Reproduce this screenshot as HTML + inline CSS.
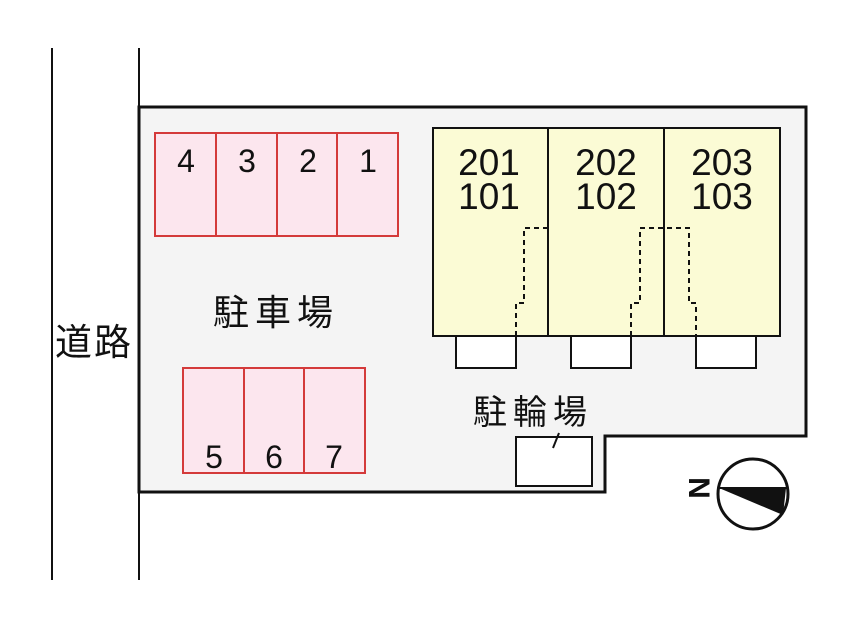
<!DOCTYPE html>
<html><head><meta charset="utf-8"><style>
body{margin:0;background:#fff;}
svg text{font-family:"Liberation Sans","Noto Sans CJK JP",sans-serif;fill:#111;}
</style></head><body>
<svg width="846" height="634" viewBox="0 0 846 634" xmlns="http://www.w3.org/2000/svg">
<line x1="52" y1="48" x2="52" y2="580" stroke="#111" stroke-width="2"/>
<line x1="139" y1="48" x2="139" y2="580" stroke="#111" stroke-width="2"/>
<polygon points="139,107 806,107 806,436 605,436 605,492 139,492" fill="#f4f4f4" stroke="#111" stroke-width="3"/>
<g fill="#fce6ee" stroke="#d43a3a" stroke-width="2">
<rect x="155" y="133" width="243" height="103"/>
<line x1="216" y1="133" x2="216" y2="236"/><line x1="277" y1="133" x2="277" y2="236"/><line x1="337" y1="133" x2="337" y2="236"/>
<rect x="183" y="368" width="182" height="105"/>
<line x1="244" y1="368" x2="244" y2="473"/><line x1="304" y1="368" x2="304" y2="473"/>
</g>
<g font-size="32" text-anchor="middle">
<text x="186" y="172">4</text><text x="247" y="172">3</text><text x="308" y="172">2</text><text x="368" y="172">1</text>
<text x="214" y="468">5</text><text x="274" y="468">6</text><text x="334" y="468">7</text>
</g>
<g fill="#fbfbd5" stroke="#111" stroke-width="2">
<rect x="433" y="128" width="347" height="208"/>
<line x1="548" y1="128" x2="548" y2="336"/><line x1="664" y1="128" x2="664" y2="336"/>
</g>
<g fill="#fff" stroke="#111" stroke-width="2">
<rect x="456" y="336" width="60" height="32"/><rect x="571" y="336" width="60" height="32"/><rect x="696" y="336" width="60" height="32"/>
<rect x="516" y="437" width="76" height="49"/>
</g>
<line x1="553" y1="448" x2="559" y2="433" stroke="#111" stroke-width="2"/>
<g fill="none" stroke="#111" stroke-width="2" stroke-dasharray="5,4">
<polyline points="548,228 524,228 524,303 516,303 516,336"/>
<polyline points="631,336 631,303 640,303 640,228 689,228 689,303 696,303 696,336"/>
</g>
<g font-size="37" text-anchor="middle">
<text x="489" y="175">201</text><text x="489" y="209">101</text>
<text x="606" y="175">202</text><text x="606" y="209">102</text>
<text x="722" y="175">203</text><text x="722" y="209">103</text>
</g>
<text x="213" y="325" font-size="36" letter-spacing="6">駐車場</text>
<text x="55" y="355" font-size="37" letter-spacing="2">道路</text>
<text x="473" y="424" font-size="34" letter-spacing="6">駐輪場</text>
<circle cx="753" cy="494" r="35" fill="#fff" stroke="#111" stroke-width="3"/>
<line x1="719" y1="488" x2="787" y2="488" stroke="#111" stroke-width="2"/>
<polygon points="719,488 786,488 783,515" fill="#111"/>
<text x="0" y="0" font-size="30" font-weight="bold" transform="translate(689,488) rotate(90)" text-anchor="middle">N</text>
</svg>
</body></html>
